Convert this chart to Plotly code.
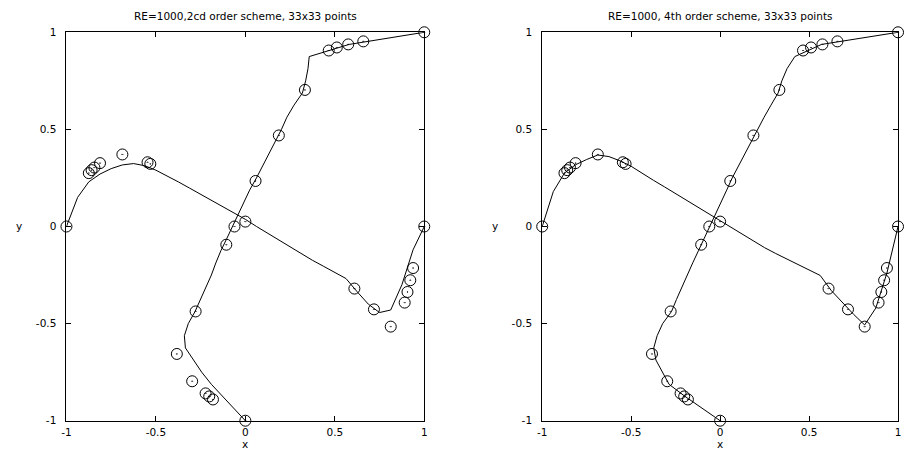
import plotly.graph_objects as go

# Grid coordinate of the 33 computed points (centerline positions, scaled to [-1, 1])
grid = [-1.0, -0.9375, -0.875, -0.8125, -0.75, -0.6875, -0.625, -0.5625, -0.5,
        -0.4375, -0.375, -0.3125, -0.25, -0.1875, -0.125, -0.0625, 0.0,
        0.0625, 0.125, 0.1875, 0.25, 0.3125, 0.375, 0.4375, 0.5, 0.5625,
        0.625, 0.6875, 0.75, 0.8125, 0.875, 0.9375, 1.0]

# 2nd order scheme: u along vertical centerline, v along horizontal centerline
u_2nd = [0.0, -0.062, -0.124, -0.19, -0.244, -0.289, -0.335, -0.341, -0.319,
         -0.281, -0.25, -0.217, -0.19, -0.165, -0.137, -0.104, -0.072,
         -0.04, -0.008, 0.024, 0.062, 0.097, 0.130, 0.167, 0.202, 0.232,
         0.272, 0.319, 0.337, 0.35, 0.357, 0.58, 1.0]
v_2nd = [0.0, 0.15, 0.23, 0.27, 0.298, 0.317, 0.324, 0.313, 0.29,
         0.262, 0.23, 0.198, 0.166, 0.134, 0.102, 0.07, 0.037,
         0.0, -0.035, -0.071, -0.107, -0.142, -0.174, -0.205, -0.236, -0.268,
         -0.336, -0.40, -0.443, -0.43, -0.30, -0.12, 0.0]

# 4th order scheme
u_4th = [0.0, -0.099, -0.197, -0.287, -0.324, -0.361, -0.373, -0.354, -0.323,
         -0.273, -0.245, -0.216, -0.187, -0.154, -0.122, -0.09, -0.055,
         -0.024, 0.007, 0.037, 0.068, 0.103, 0.139, 0.174, 0.211, 0.247,
         0.286, 0.326, 0.347, 0.376, 0.42, 0.57, 1.0]
v_4th = [0.0, 0.18, 0.275, 0.318, 0.345, 0.368, 0.36, 0.338, 0.31,
         0.272, 0.238, 0.204, 0.169, 0.135, 0.101, 0.066, 0.032,
         -0.003, -0.038, -0.074, -0.109, -0.139, -0.167, -0.196, -0.224, -0.252,
         -0.33, -0.392, -0.452, -0.507, -0.42, -0.24, 0.0]

# Reference (Ghia et al.) data, as placed on the chart
ref_u_pos = [0.9532, 0.9376, 0.9218, 0.9062, 0.7032, 0.4688, 0.2344, 0.0, -0.0938,
             -0.4374, -0.6562, -0.7968, -0.8594, -0.875, -0.8906, -1.0, 1.0]
ref_u = [0.65928, 0.57492, 0.51117, 0.46604, 0.33304, 0.18719, 0.05702, -0.06080,
         -0.10648, -0.27805, -0.38289, -0.29730, -0.22220, -0.20196, -0.18109, 0.0, 1.0]
ref_v_pos = [1.0, 0.9376, 0.9218, 0.9062, 0.8906, 0.8126, 0.7188, 0.6094, 0.0,
             -0.5312, -0.5468, -0.6874, -0.8124, -0.8438, -0.8594, -0.875, -1.0]
ref_v = [0.0, -0.21388, -0.27669, -0.33714, -0.39188, -0.51550, -0.42665, -0.31966,
         0.02526, 0.32235, 0.33075, 0.37095, 0.32627, 0.30353, 0.29012, 0.27485, 0.0]

titles = ["RE=1000,2cd order scheme, 33x33 points",
          "RE=1000, 4th order scheme, 33x33 points"]
tick_vals = [-1, -0.5, 0, 0.5, 1]
tick_text = ["-1", "-0.5", "0", "0.5", "1"]

W, H = 904, 453
FONT = "DejaVu Sans"
FS = 10.5

fig = go.Figure()

panels = [("x", "y", u_2nd, v_2nd), ("x2", "y2", u_4th, v_4th)]
for xa, ya, u_line, v_line in panels:
    line_style = dict(color="black", width=1)
    fig.add_trace(go.Scatter(x=u_line, y=grid, mode="lines", line=line_style,
                             xaxis=xa, yaxis=ya, showlegend=False))
    fig.add_trace(go.Scatter(x=grid, y=v_line, mode="lines", line=line_style,
                             xaxis=xa, yaxis=ya, showlegend=False))
    mk = dict(symbol="circle-open-dot", size=11, color="black", line=dict(width=1, color="black"))
    fig.add_trace(go.Scatter(x=ref_u, y=ref_u_pos, mode="markers", marker=mk,
                             cliponaxis=False, xaxis=xa, yaxis=ya, showlegend=False))
    fig.add_trace(go.Scatter(x=ref_v_pos, y=ref_v, mode="markers", marker=mk,
                             cliponaxis=False, xaxis=xa, yaxis=ya, showlegend=False))

# plot areas in pixels
left_px = (62, 423)
right_px = (542, 901)
top_px, bot_px = 27, 426

def xdom(p):
    return [p[0] / W, p[1] / W]

ydom = [(H - bot_px) / H, (H - top_px) / H]

axis_common = dict(range=[-1, 1], showgrid=False, zeroline=False, showline=True,
                   linecolor="black", linewidth=1, mirror="ticks", ticks="inside",
                   ticklen=5, tickcolor="black", tickwidth=1,
                   tickvals=tick_vals, ticktext=tick_text,
                   tickfont=dict(family=FONT, size=FS, color="black"))

fig.update_layout(
    width=W, height=H,
    margin=dict(l=0, r=0, t=0, b=0),
    paper_bgcolor="white", plot_bgcolor="white",
    xaxis=dict(domain=xdom(left_px), anchor="y", ticklabelstandoff=2, **axis_common),
    yaxis=dict(domain=ydom, anchor="x", ticklabelstandoff=7, **axis_common),
    xaxis2=dict(domain=xdom(right_px), anchor="y2", ticklabelstandoff=2, **axis_common),
    yaxis2=dict(domain=ydom, anchor="x2", ticklabelstandoff=7, **axis_common),
    showlegend=False,
)

annots = []
for (p, t) in [(left_px, titles[0]), (right_px, titles[1])]:
    cx = (p[0] + p[1]) / 2
    annots.append(dict(text=t, x=cx / W, y=1 - 10 / H, xref="paper", yref="paper",
                       showarrow=False, xanchor="center", yanchor="middle",
                       font=dict(family=FONT, size=FS, color="black")))
    annots.append(dict(text="x", x=cx / W, y=0, xref="paper", yref="paper",
                       showarrow=False, xanchor="center", yanchor="bottom", yshift=-4,
                       borderpad=0,
                       font=dict(family=FONT, size=FS, color="black")))
    annots.append(dict(text="y", x=(p[0] - 48) / W, y=1 - 226 / H, xref="paper", yref="paper",
                       showarrow=False, xanchor="center", yanchor="middle",
                       font=dict(family=FONT, size=FS, color="black")))
fig.update_layout(annotations=annots)

fig.write_html("out.html")
